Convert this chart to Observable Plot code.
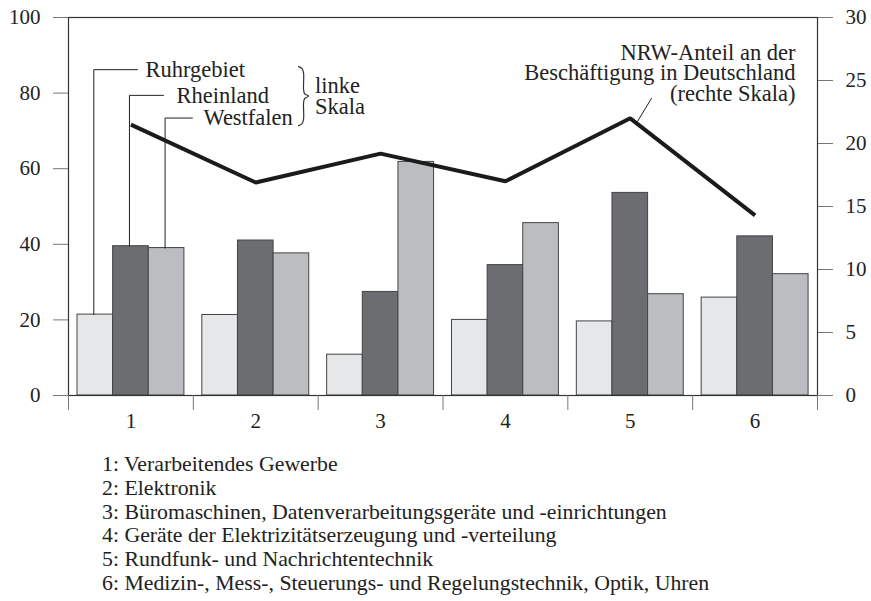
<!DOCTYPE html>
<html>
<head>
<meta charset="utf-8">
<script src="https://cdn.jsdelivr.net/npm/d3@7"></script>
<script src="https://cdn.jsdelivr.net/npm/@observablehq/plot@0.6"></script>
<style>
  html, body { margin: 0; padding: 0; background: #fff; }
  #wrap { position: relative; width: 871px; height: 601px; overflow: hidden; }
  #notes { position: absolute; left: 102px; top: 453px; font-family: "Liberation Serif", "Times New Roman", serif; font-size: 21.8px; line-height: 23.8px; color: #222; white-space: nowrap; }
</style>
</head>
<body>
<div id="wrap"><div id="chart"></div><div id="notes"></div></div>
<script>
// ---- data ----
const categories = ["1", "2", "3", "4", "5", "6"];
const seriesNames = ["Ruhrgebiet", "Rheinland", "Westfalen"];
const ruhrgebiet = [21.4, 21.3, 10.8, 20.0, 19.6, 25.9];
const rheinland  = [39.5, 41.0, 27.4, 34.5, 53.6, 42.1];
const westfalen  = [39.0, 37.6, 61.8, 45.6, 26.8, 32.1];
const nrwShare   = [21.5, 16.9, 19.2, 17.0, 22.0, 14.3];   // right scale
const leftTicks  = [0, 20, 40, 60, 80, 100];
const rightTicks = [0, 5, 10, 15, 20, 25, 30];
const footnotes = [
  "1: Verarbeitendes Gewerbe",
  "2: Elektronik",
  "3: Büromaschinen, Datenverarbeitungsgeräte und -einrichtungen",
  "4: Geräte der Elektrizitätserzeugung und -verteilung",
  "5: Rundfunk- und Nachrichtentechnik",
  "6: Medizin-, Mess-, Steuerungs- und Regelungstechnik, Optik, Uhren"
];
const lineLabelLines = ["NRW-Anteil an der", "Beschäftigung in Deutschland", "(rechte Skala)"];
const braceLabelLines = ["linke", "Skala"];

// ---- layout constants ----
const ratio = 30 / 100;          // right scale / left scale
const pad = 0.072, bw = 0.2855;  // bar layout within a group (x units)
const fills = ["#e6e7e9", "#6c6d71", "#bcbdc1"];
const allSeries = [ruhrgebiet, rheinland, westfalen];
const font = "'Liberation Serif', 'Times New Roman', serif";
const pxX = 1 / 124.83, pxY = 1 / 3.78;   // data units per pixel (for annotation shapes)

const barX1 = (g, s) => g - 0.5 + pad + s * bw;
const barXc = (g, s) => barX1(g, s) + bw / 2 - 0.012;

// annotation positions (data units)
const legY = [86.2, 79.4, 73.4];
const legEnd = [1.053, 1.261, 1.493];
const legTextX = [1.117, 1.365, 1.581];
const braceTextY = [81.9, 76.3];
const lineTextY = [90.6, 85.3, 79.9];
const braceCenter = {x: 2.383, y: 79.2};
// brace outline as pixel offsets from its centre (y downwards)
const braceShape = [[-5, -29.5], [-1.5, -27.5], [0, -23], [0, -7], [1, -2.5], [5, 0], [1, 2.5], [0, 7], [0, 23], [-1.5, 27.5], [-5, 29.5]];

const barMarks = allSeries.map((vals, s) =>
  Plot.rectY(vals.map((v, i) => ({g: i + 1, v})), {
    x1: d => barX1(d.g, s), x2: d => barX1(d.g, s) + bw,
    y1: 0, y2: "v", fill: fills[s], stroke: "#444", strokeWidth: 1
  })
);

const leaders = seriesNames.map((name, s) => [
  {x: barXc(1, s), y: allSeries[s][0]},
  {x: barXc(1, s), y: legY[s]},
  {x: legEnd[s], y: legY[s]}
]);

const chart = Plot.plot({
  width: 871, height: 440,
  marginLeft: 68, marginRight: 54, marginTop: 17, marginBottom: 45,
  style: {fontFamily: font, fontSize: "21px", color: "#222", background: "white"},
  x: {type: "linear", domain: [0.5, 6.5], axis: null},
  y: {domain: [0, 100], axis: null},
  marks: [
    ...barMarks,
    ...leaders.map(pts => Plot.line(pts, {x: "x", y: "y", stroke: "#222", strokeWidth: 1})),
    Plot.text(seriesNames, {x: (d, i) => legTextX[i], y: (d, i) => legY[i], text: d => d,
      textAnchor: "start", fontSize: 22.5, fill: "#222"}),
    Plot.line(braceShape, {x: d => braceCenter.x + d[0] * pxX, y: d => braceCenter.y - d[1] * pxY,
      curve: "catmull-rom", stroke: "#333", strokeWidth: 1.2}),
    Plot.text(braceLabelLines, {x: 2.475, y: (d, i) => braceTextY[i], text: d => d, textAnchor: "start",
      fontSize: 22.5, fill: "#222"}),
    Plot.text(lineLabelLines, {x: 6.324, y: (d, i) => lineTextY[i], text: d => d, textAnchor: "end",
      fontSize: 22.5, fill: "#222"}),
    Plot.line([{x: 5.170, y: 78.6}, {x: 5.058, y: 72.5}], {x: "x", y: "y", stroke: "#222", strokeWidth: 1}),
    Plot.line(nrwShare.map((v, i) => ({g: i + 1, v})), {
      x: "g", y: d => d.v / ratio, stroke: "#1b1b1b", strokeWidth: 4,
      strokeLinejoin: "miter", strokeLinecap: "butt"
    }),
    Plot.frame({stroke: "#333", strokeWidth: 1.2}),
    Plot.axisY(leftTicks, {anchor: "left", tickSize: 15, tickPadding: 13, stroke: "#777", label: null}),
    Plot.axisY(rightTicks.map(v => v / ratio), {anchor: "right", tickSize: 15, tickPadding: 13,
      stroke: "#777", label: null, tickFormat: d => String(Math.round(d * ratio))}),
    Plot.axisX(d3.range(0.5, 7, 1), {tickSize: 15, tickFormat: () => "", stroke: "#777", label: null}),
    Plot.axisX(categories.map(Number), {tickSize: 0, tickPadding: 18, tickFormat: d => categories[d - 1], label: null})
  ]
});
document.getElementById("chart").appendChild(chart);

const notes = document.getElementById("notes");
footnotes.forEach(t => { const div = document.createElement("div"); div.textContent = t; notes.appendChild(div); });
</script>
</body>
</html>
